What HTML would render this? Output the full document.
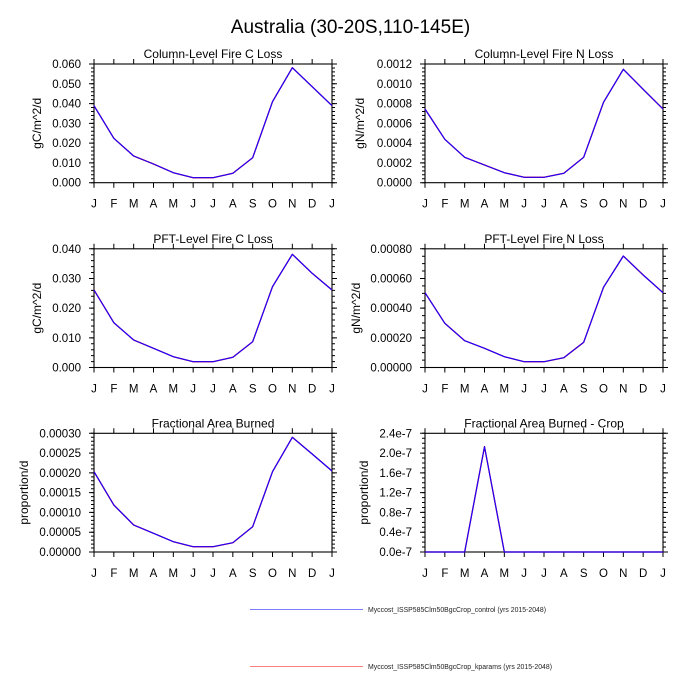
<!DOCTYPE html>
<html><head><meta charset="utf-8"><style>
html,body{margin:0;padding:0;background:#fff;}
svg{display:block;font-family:"Liberation Sans",Arial,sans-serif;}
.tl{font-size:11.5px;text-anchor:end;}
.xl{font-size:11.5px;text-anchor:middle;}
.st{font-size:12px;text-anchor:middle;}
.yt{font-size:12px;text-anchor:middle;}
.fr{fill:none;stroke:#000;stroke-width:1.1;}
.tk{fill:none;stroke:#000;}
.r{fill:none;stroke:#ff0000;stroke-width:1.3;stroke-linejoin:round;}
.b{fill:none;stroke:#1a00ff;stroke-width:1.2;stroke-linejoin:round;}
</style></head><body>
<svg width="700" height="700" viewBox="0 0 700 700" xmlns="http://www.w3.org/2000/svg">
<rect width="700" height="700" fill="#fff"/>
<text x="350.5" y="33" font-size="19" text-anchor="middle">Australia (30-20S,110-145E)</text>

<!-- Plot 1 -->
<g transform="translate(94,64)">
<text class="st" x="119" y="-6">Column-Level Fire C Loss</text>
<line class="tk" x1="-2.5" y1="-0.5" x2="-2.5" y2="119.2" stroke-width="5" stroke-dasharray="1 18.783"/>
<line class="tk" x1="-1.5" y1="-0.5" x2="-1.5" y2="119.2" stroke-width="3" stroke-dasharray="1 2.957"/>
<line class="tk" x1="240.5" y1="-0.5" x2="240.5" y2="119.2" stroke-width="5" stroke-dasharray="1 18.783"/>
<line class="tk" x1="239.5" y1="-0.5" x2="239.5" y2="119.2" stroke-width="3" stroke-dasharray="1 2.957"/>
<line class="tk" x1="-0.5" y1="-2.5" x2="238.5" y2="-2.5" stroke-width="5" stroke-dasharray="1 18.833"/>
<line class="tk" x1="-0.5" y1="121.2" x2="238.5" y2="121.2" stroke-width="5" stroke-dasharray="1 18.833"/>
<rect class="fr" x="0" y="0" width="238" height="118.7"/>
<polyline class="r" points="0,41.7 19.83,74.3 39.67,92 59.5,100 79.33,108.7 99.17,113.7 119,113.7 138.83,109.3 158.67,93.7 178.5,37.7 198.33,3.7 218.17,22.7 238,41.7"/>
<polyline class="b" points="0,41.7 19.83,74.3 39.67,92 59.5,100 79.33,108.7 99.17,113.7 119,113.7 138.83,109.3 158.67,93.7 178.5,37.7 198.33,3.7 218.17,22.7 238,41.7"/>
<text class="tl" x="-13" y="122.7">0.000</text><text class="tl" x="-13" y="102.9">0.010</text><text class="tl" x="-13" y="83.1">0.020</text><text class="tl" x="-13" y="63.4">0.030</text><text class="tl" x="-13" y="43.6">0.040</text><text class="tl" x="-13" y="23.8">0.050</text><text class="tl" x="-13" y="4">0.060</text>
<text class="yt" transform="translate(-53,59.35) rotate(-90)">gC/m^2/d</text>
<text class="xl" x="0" y="143.5">J</text><text class="xl" x="19.83" y="143.5">F</text><text class="xl" x="39.67" y="143.5">M</text><text class="xl" x="59.5" y="143.5">A</text><text class="xl" x="79.33" y="143.5">M</text><text class="xl" x="99.17" y="143.5">J</text><text class="xl" x="119" y="143.5">J</text><text class="xl" x="138.83" y="143.5">A</text><text class="xl" x="158.67" y="143.5">S</text><text class="xl" x="178.5" y="143.5">O</text><text class="xl" x="198.33" y="143.5">N</text><text class="xl" x="218.17" y="143.5">D</text><text class="xl" x="238" y="143.5">J</text>
</g>

<!-- Plot 2 -->
<g transform="translate(425,64)">
<text class="st" x="119" y="-6">Column-Level Fire N Loss</text>
<line class="tk" x1="-2.5" y1="-0.5" x2="-2.5" y2="119.2" stroke-width="5" stroke-dasharray="1 18.783"/>
<line class="tk" x1="-1.5" y1="-0.5" x2="-1.5" y2="119.2" stroke-width="3" stroke-dasharray="1 2.957"/>
<line class="tk" x1="240.5" y1="-0.5" x2="240.5" y2="119.2" stroke-width="5" stroke-dasharray="1 18.783"/>
<line class="tk" x1="239.5" y1="-0.5" x2="239.5" y2="119.2" stroke-width="3" stroke-dasharray="1 2.957"/>
<line class="tk" x1="-0.5" y1="-2.5" x2="238.5" y2="-2.5" stroke-width="5" stroke-dasharray="1 18.833"/>
<line class="tk" x1="-0.5" y1="121.2" x2="238.5" y2="121.2" stroke-width="5" stroke-dasharray="1 18.833"/>
<rect class="fr" x="0" y="0" width="238" height="118.7"/>
<polyline class="r" points="0,45 19.83,75.3 39.67,93.3 59.5,101 79.33,108.7 99.17,113.3 119,113.3 138.83,109.3 158.67,93.3 178.5,38.3 198.33,5.3 218.17,25.3 238,45"/>
<polyline class="b" points="0,45 19.83,75.3 39.67,93.3 59.5,101 79.33,108.7 99.17,113.3 119,113.3 138.83,109.3 158.67,93.3 178.5,38.3 198.33,5.3 218.17,25.3 238,45"/>
<text class="tl" x="-13" y="122.7">0.0000</text><text class="tl" x="-13" y="102.9">0.0002</text><text class="tl" x="-13" y="83.1">0.0004</text><text class="tl" x="-13" y="63.4">0.0006</text><text class="tl" x="-13" y="43.6">0.0008</text><text class="tl" x="-13" y="23.8">0.0010</text><text class="tl" x="-13" y="4">0.0012</text>
<text class="yt" transform="translate(-61,59.35) rotate(-90)">gN/m^2/d</text>
<text class="xl" x="0" y="143.5">J</text><text class="xl" x="19.83" y="143.5">F</text><text class="xl" x="39.67" y="143.5">M</text><text class="xl" x="59.5" y="143.5">A</text><text class="xl" x="79.33" y="143.5">M</text><text class="xl" x="99.17" y="143.5">J</text><text class="xl" x="119" y="143.5">J</text><text class="xl" x="138.83" y="143.5">A</text><text class="xl" x="158.67" y="143.5">S</text><text class="xl" x="178.5" y="143.5">O</text><text class="xl" x="198.33" y="143.5">N</text><text class="xl" x="218.17" y="143.5">D</text><text class="xl" x="238" y="143.5">J</text>
</g>

<!-- Plot 3 -->
<g transform="translate(94,248.8)">
<text class="st" x="119" y="-6">PFT-Level Fire C Loss</text>
<line class="tk" x1="-2.5" y1="-0.5" x2="-2.5" y2="119.2" stroke-width="5" stroke-dasharray="1 28.675"/>
<line class="tk" x1="-1.5" y1="-0.5" x2="-1.5" y2="119.2" stroke-width="3" stroke-dasharray="1 4.935"/>
<line class="tk" x1="240.5" y1="-0.5" x2="240.5" y2="119.2" stroke-width="5" stroke-dasharray="1 28.675"/>
<line class="tk" x1="239.5" y1="-0.5" x2="239.5" y2="119.2" stroke-width="3" stroke-dasharray="1 4.935"/>
<line class="tk" x1="-0.5" y1="-2.5" x2="238.5" y2="-2.5" stroke-width="5" stroke-dasharray="1 18.833"/>
<line class="tk" x1="-0.5" y1="121.2" x2="238.5" y2="121.2" stroke-width="5" stroke-dasharray="1 18.833"/>
<rect class="fr" x="0" y="0" width="238" height="118.7"/>
<polyline class="r" points="0,41.2 19.83,73.9 39.67,91.2 59.5,99.5 79.33,107.9 99.17,112.9 119,112.9 138.83,108.5 158.67,92.9 178.5,37.9 198.33,5.5 218.17,24.5 238,41.2"/>
<polyline class="b" points="0,41.2 19.83,73.9 39.67,91.2 59.5,99.5 79.33,107.9 99.17,112.9 119,112.9 138.83,108.5 158.67,92.9 178.5,37.9 198.33,5.5 218.17,24.5 238,41.2"/>
<text class="tl" x="-13" y="122.7">0.000</text><text class="tl" x="-13" y="93">0.010</text><text class="tl" x="-13" y="63.4">0.020</text><text class="tl" x="-13" y="33.7">0.030</text><text class="tl" x="-13" y="4">0.040</text>
<text class="yt" transform="translate(-53,59.35) rotate(-90)">gC/m^2/d</text>
<text class="xl" x="0" y="143.5">J</text><text class="xl" x="19.83" y="143.5">F</text><text class="xl" x="39.67" y="143.5">M</text><text class="xl" x="59.5" y="143.5">A</text><text class="xl" x="79.33" y="143.5">M</text><text class="xl" x="99.17" y="143.5">J</text><text class="xl" x="119" y="143.5">J</text><text class="xl" x="138.83" y="143.5">A</text><text class="xl" x="158.67" y="143.5">S</text><text class="xl" x="178.5" y="143.5">O</text><text class="xl" x="198.33" y="143.5">N</text><text class="xl" x="218.17" y="143.5">D</text><text class="xl" x="238" y="143.5">J</text>
</g>

<!-- Plot 4 -->
<g transform="translate(425,248.8)">
<text class="st" x="119" y="-6">PFT-Level Fire N Loss</text>
<line class="tk" x1="-2.5" y1="-0.5" x2="-2.5" y2="119.2" stroke-width="5" stroke-dasharray="1 28.675"/>
<line class="tk" x1="-1.5" y1="-0.5" x2="-1.5" y2="119.2" stroke-width="3" stroke-dasharray="1 6.419"/>
<line class="tk" x1="240.5" y1="-0.5" x2="240.5" y2="119.2" stroke-width="5" stroke-dasharray="1 28.675"/>
<line class="tk" x1="239.5" y1="-0.5" x2="239.5" y2="119.2" stroke-width="3" stroke-dasharray="1 6.419"/>
<line class="tk" x1="-0.5" y1="-2.5" x2="238.5" y2="-2.5" stroke-width="5" stroke-dasharray="1 18.833"/>
<line class="tk" x1="-0.5" y1="121.2" x2="238.5" y2="121.2" stroke-width="5" stroke-dasharray="1 18.833"/>
<rect class="fr" x="0" y="0" width="238" height="118.7"/>
<polyline class="r" points="0,43.9 19.83,74.5 39.67,91.9 59.5,99.5 79.33,107.9 99.17,112.9 119,112.9 138.83,108.9 158.67,93.5 178.5,38.5 198.33,7.2 218.17,26.2 238,43.9"/>
<polyline class="b" points="0,43.9 19.83,74.5 39.67,91.9 59.5,99.5 79.33,107.9 99.17,112.9 119,112.9 138.83,108.9 158.67,93.5 178.5,38.5 198.33,7.2 218.17,26.2 238,43.9"/>
<text class="tl" x="-13" y="122.7">0.00000</text><text class="tl" x="-13" y="93">0.00020</text><text class="tl" x="-13" y="63.4">0.00040</text><text class="tl" x="-13" y="33.7">0.00060</text><text class="tl" x="-13" y="4">0.00080</text>
<text class="yt" transform="translate(-65,59.35) rotate(-90)">gN/m^2/d</text>
<text class="xl" x="0" y="143.5">J</text><text class="xl" x="19.83" y="143.5">F</text><text class="xl" x="39.67" y="143.5">M</text><text class="xl" x="59.5" y="143.5">A</text><text class="xl" x="79.33" y="143.5">M</text><text class="xl" x="99.17" y="143.5">J</text><text class="xl" x="119" y="143.5">J</text><text class="xl" x="138.83" y="143.5">A</text><text class="xl" x="158.67" y="143.5">S</text><text class="xl" x="178.5" y="143.5">O</text><text class="xl" x="198.33" y="143.5">N</text><text class="xl" x="218.17" y="143.5">D</text><text class="xl" x="238" y="143.5">J</text>
</g>

<!-- Plot 5 -->
<g transform="translate(94,433.3)">
<text class="st" x="119" y="-6">Fractional Area Burned</text>
<line class="tk" x1="-2.5" y1="-0.5" x2="-2.5" y2="119.2" stroke-width="5" stroke-dasharray="1 18.783"/>
<line class="tk" x1="-1.5" y1="-0.5" x2="-1.5" y2="119.2" stroke-width="3" stroke-dasharray="1 2.957"/>
<line class="tk" x1="240.5" y1="-0.5" x2="240.5" y2="119.2" stroke-width="5" stroke-dasharray="1 18.783"/>
<line class="tk" x1="239.5" y1="-0.5" x2="239.5" y2="119.2" stroke-width="3" stroke-dasharray="1 2.957"/>
<line class="tk" x1="-0.5" y1="-2.5" x2="238.5" y2="-2.5" stroke-width="5" stroke-dasharray="1 18.833"/>
<line class="tk" x1="-0.5" y1="121.2" x2="238.5" y2="121.2" stroke-width="5" stroke-dasharray="1 18.833"/>
<rect class="fr" x="0" y="0" width="238" height="118.7"/>
<polyline class="r" points="0,38.4 19.83,71.7 39.67,91.7 59.5,100 79.33,108.4 99.17,113.4 119,113.4 138.83,109.4 158.67,93.4 178.5,38.4 198.33,4 218.17,20.7 238,37.7"/>
<polyline class="b" points="0,38.4 19.83,71.7 39.67,91.7 59.5,100 79.33,108.4 99.17,113.4 119,113.4 138.83,109.4 158.67,93.4 178.5,38.4 198.33,4 218.17,20.7 238,37.7"/>
<text class="tl" x="-13" y="122.7">0.00000</text><text class="tl" x="-13" y="102.9">0.00005</text><text class="tl" x="-13" y="83.1">0.00010</text><text class="tl" x="-13" y="63.4">0.00015</text><text class="tl" x="-13" y="43.6">0.00020</text><text class="tl" x="-13" y="23.8">0.00025</text><text class="tl" x="-13" y="4">0.00030</text>
<text class="yt" transform="translate(-66,59.35) rotate(-90)">proportion/d</text>
<text class="xl" x="0" y="143.5">J</text><text class="xl" x="19.83" y="143.5">F</text><text class="xl" x="39.67" y="143.5">M</text><text class="xl" x="59.5" y="143.5">A</text><text class="xl" x="79.33" y="143.5">M</text><text class="xl" x="99.17" y="143.5">J</text><text class="xl" x="119" y="143.5">J</text><text class="xl" x="138.83" y="143.5">A</text><text class="xl" x="158.67" y="143.5">S</text><text class="xl" x="178.5" y="143.5">O</text><text class="xl" x="198.33" y="143.5">N</text><text class="xl" x="218.17" y="143.5">D</text><text class="xl" x="238" y="143.5">J</text>
</g>

<!-- Plot 6 -->
<g transform="translate(425,433.3)">
<text class="st" x="119" y="-6">Fractional Area Burned - Crop</text>
<line class="tk" x1="-2.5" y1="-0.5" x2="-2.5" y2="119.2" stroke-width="5" stroke-dasharray="1 18.783"/>
<line class="tk" x1="-1.5" y1="-0.5" x2="-1.5" y2="119.2" stroke-width="3" stroke-dasharray="1 3.946"/>
<line class="tk" x1="240.5" y1="-0.5" x2="240.5" y2="119.2" stroke-width="5" stroke-dasharray="1 18.783"/>
<line class="tk" x1="239.5" y1="-0.5" x2="239.5" y2="119.2" stroke-width="3" stroke-dasharray="1 3.946"/>
<line class="tk" x1="-0.5" y1="-2.5" x2="238.5" y2="-2.5" stroke-width="5" stroke-dasharray="1 18.833"/>
<line class="tk" x1="-0.5" y1="121.2" x2="238.5" y2="121.2" stroke-width="5" stroke-dasharray="1 18.833"/>
<rect class="fr" x="0" y="0" width="238" height="118.7"/>
<polyline class="r" points="0,118.7 19.83,118.7 39.67,118.7 59.5,13.4 79.33,118.7 99.17,118.7 119,118.7 138.83,118.7 158.67,118.7 178.5,118.7 198.33,118.7 218.17,118.7 238,118.7"/>
<polyline class="b" points="0,118.7 19.83,118.7 39.67,118.7 59.5,13.4 79.33,118.7 99.17,118.7 119,118.7 138.83,118.7 158.67,118.7 178.5,118.7 198.33,118.7 218.17,118.7 238,118.7"/>
<text class="tl" x="-13" y="122.7">0.0e-7</text><text class="tl" x="-13" y="102.9">0.4e-7</text><text class="tl" x="-13" y="83.1">0.8e-7</text><text class="tl" x="-13" y="63.4">1.2e-7</text><text class="tl" x="-13" y="43.6">1.6e-7</text><text class="tl" x="-13" y="23.8">2.0e-7</text><text class="tl" x="-13" y="4">2.4e-7</text>
<text class="yt" transform="translate(-57,59.35) rotate(-90)">proportion/d</text>
<text class="xl" x="0" y="143.5">J</text><text class="xl" x="19.83" y="143.5">F</text><text class="xl" x="39.67" y="143.5">M</text><text class="xl" x="59.5" y="143.5">A</text><text class="xl" x="79.33" y="143.5">M</text><text class="xl" x="99.17" y="143.5">J</text><text class="xl" x="119" y="143.5">J</text><text class="xl" x="138.83" y="143.5">A</text><text class="xl" x="158.67" y="143.5">S</text><text class="xl" x="178.5" y="143.5">O</text><text class="xl" x="198.33" y="143.5">N</text><text class="xl" x="218.17" y="143.5">D</text><text class="xl" x="238" y="143.5">J</text>
</g>

<!-- Legend -->
<line x1="250" y1="609.5" x2="363" y2="609.5" stroke="#7c7cff" stroke-width="1"/>
<text x="368" y="612" font-size="7" textLength="178" lengthAdjust="spacingAndGlyphs" fill="#222">Myccost_ISSP585Clm50BgcCrop_control (yrs 2015-2048)</text>
<line x1="250" y1="666.5" x2="363" y2="666.5" stroke="#ff8080" stroke-width="1"/>
<text x="368" y="669" font-size="7" textLength="184" lengthAdjust="spacingAndGlyphs" fill="#222">Myccost_ISSP585Clm50BgcCrop_kparams (yrs 2015-2048)</text>
</svg>
</body></html>
